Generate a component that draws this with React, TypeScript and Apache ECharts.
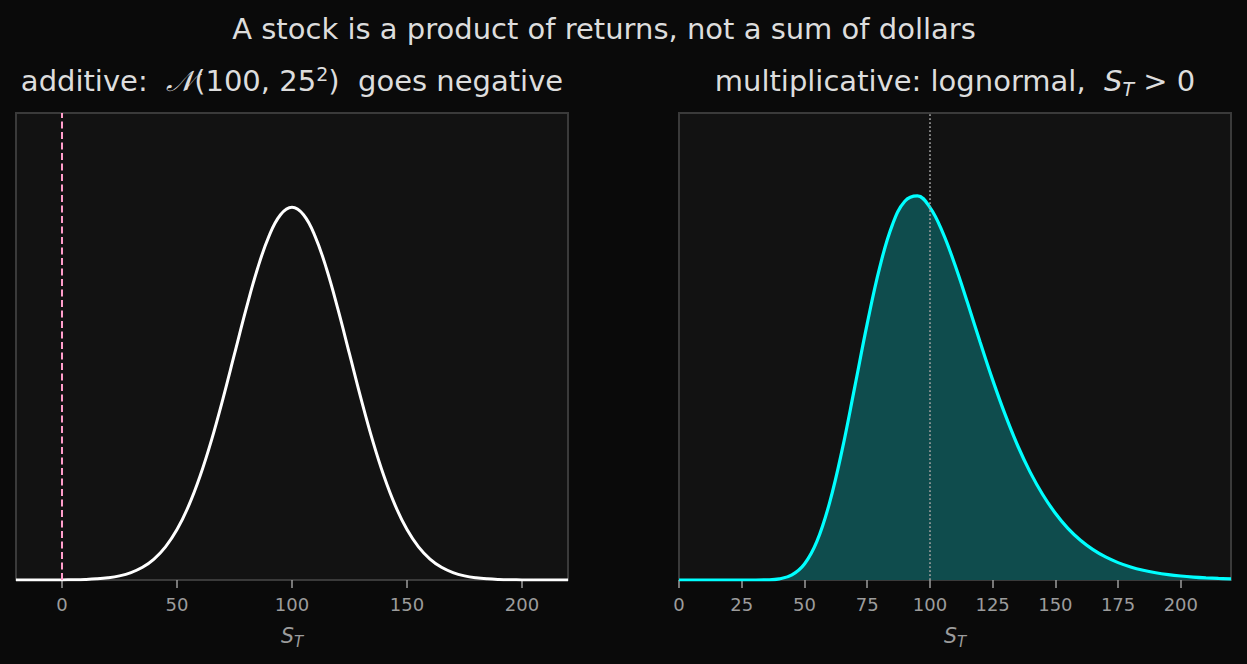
import { useEffect, useRef } from 'react';
import * as echarts from 'echarts';

// 加法モデル: N(100, 25^2) の密度
const additiveX = [
  -20, -15, -10, -5, 0, 5, 10, 15, 20, 25, 30, 35, 40, 45, 50, 55, 60, 65, 70, 75, 80, 85, 90, 95,
  100, 105, 110, 115, 120, 125, 130, 135, 140, 145, 150, 155, 160, 165, 170, 175, 180, 185, 190,
  195, 200, 205, 210, 215, 220,
];
const additiveDensity = [
  0.0000002, 0.0000004, 0.000001, 0.0000024, 0.0000053, 0.0000117, 0.0000245, 0.0000493, 0.0000954,
  0.000177, 0.000317, 0.000543, 0.000896, 0.00142, 0.00216, 0.00316, 0.00444, 0.00599, 0.00777,
  0.00968, 0.01159, 0.01333, 0.01473, 0.01564, 0.01596, 0.01564, 0.01473, 0.01333, 0.01159,
  0.00968, 0.00777, 0.00599, 0.00444, 0.00316, 0.00216, 0.00142, 0.000896, 0.000543, 0.000317,
  0.000177, 0.0000954, 0.0000493, 0.0000245, 0.0000117, 0.0000053, 0.0000024, 0.000001, 0.0000004,
  0.0000002,
];

// 乗法モデル: 対数正規分布の密度
const multiplicativeX = [
  0, 5, 10, 15, 20, 25, 30, 35, 40, 45, 50, 55, 60, 65, 70, 75, 80, 85, 90, 95, 100, 105, 110,
  115, 120, 125, 130, 135, 140, 145, 150, 155, 160, 165, 170, 175, 180, 185, 190, 195, 200, 205,
  210, 215, 220,
];
const multiplicativeDensity = [
  0, 0, 0, 0, 0, 0, 0.0000005, 0.0000067, 0.000048, 0.000216, 0.000683, 0.001663, 0.0033, 0.00556,
  0.00824, 0.01097, 0.01339, 0.0152, 0.01622, 0.01645, 0.01596, 0.01491, 0.01349, 0.01187, 0.01019,
  0.00857, 0.00708, 0.00575, 0.00461, 0.00365, 0.00286, 0.00221, 0.0017, 0.0013, 0.000987,
  0.000744, 0.000559, 0.000418, 0.000311, 0.000231, 0.000171, 0.000126, 0.000093, 0.000068,
  0.00005,
];

const additiveTicks = [0, 50, 100, 150, 200];
const multiplicativeTicks = [0, 25, 50, 75, 100, 125, 150, 175, 200];

const FONT = 'DejaVu Sans';
const TICK_COLOR = '#9c9c9c';
const TITLE_COLOR = '#dddddd';
const TITLE_SIZE = 29;

const App: React.FC = () => {
  const chartRef = useRef<HTMLDivElement>(null);

  useEffect(() => {
    if (!chartRef.current) return;
    const chart = echarts.init(chartRef.current, undefined, { renderer: 'svg' });

    const axisName = {
      name: '{s|S}{t|T}',
      nameLocation: 'middle' as const,
      nameGap: 43,
      nameTextStyle: {
        rich: {
          s: { fontFamily: FONT, fontSize: 20.5, fontStyle: 'italic', color: TICK_COLOR, lineHeight: 26 },
          t: {
            fontFamily: FONT,
            fontSize: 15,
            fontStyle: 'italic',
            color: TICK_COLOR,
            verticalAlign: 'bottom' as const,
            lineHeight: 18,
          },
        },
      },
    };

    const xCommon = (ticks: number[]) => ({
      type: 'value' as const,
      axisLine: { show: false },
      splitLine: { show: false },
      axisTick: {
        show: true,
        customValues: ticks,
        length: 8,
        lineStyle: { color: TICK_COLOR, width: 1.5 },
      },
      axisLabel: {
        customValues: ticks,
        margin: 15,
        color: TICK_COLOR,
        fontSize: 18,
        fontFamily: FONT,
      },
      ...axisName,
    });

    const yCommon = {
      type: 'value' as const,
      min: 0,
      max: 0.02,
      axisLine: { show: false },
      axisTick: { show: false },
      axisLabel: { show: false },
      splitLine: { show: false },
    };

    const gridCommon = {
      show: true,
      top: 113,
      width: 552,
      height: 467,
      backgroundColor: '#121212',
      borderColor: '#3a3a3a',
      borderWidth: 2,
    };

    const titleRich = {
      a: { color: TITLE_COLOR, fontSize: TITLE_SIZE, fontWeight: 'normal', fontFamily: FONT, lineHeight: 34 },
      i: {
        color: TITLE_COLOR,
        fontSize: TITLE_SIZE,
        fontWeight: 'normal',
        fontFamily: FONT,
        fontStyle: 'italic',
        lineHeight: 34,
      },
      p: {
        color: TITLE_COLOR,
        fontSize: 19,
        fontWeight: 'normal',
        fontFamily: FONT,
        verticalAlign: 'top',
        lineHeight: 22,
      },
      t: {
        color: TITLE_COLOR,
        fontSize: 19,
        fontWeight: 'normal',
        fontFamily: FONT,
        fontStyle: 'italic',
        verticalAlign: 'bottom',
        lineHeight: 24,
      },
    };

    const option: echarts.EChartsOption = {
      animation: false,
      backgroundColor: '#0a0a0a',
      textStyle: { fontFamily: FONT },
      title: [
        {
          text: 'A stock is a product of returns, not a sum of dollars',
          left: 604,
          textAlign: 'center',
          top: 14,
          padding: 0,
          textStyle: { color: TITLE_COLOR, fontSize: TITLE_SIZE, fontWeight: 'normal', fontFamily: FONT },
        },
        {
          text: '{a|additive:  }{i|𝒩}{a|(100, 25}{p|2}{a|)  goes negative}',
          left: 292,
          textAlign: 'center',
          top: 64,
          padding: 0,
          textStyle: { rich: titleRich },
        },
        {
          text: '{a|multiplicative: lognormal,  }{i|S}{t|T}{a| > 0}',
          left: 955,
          textAlign: 'center',
          top: 64,
          padding: 0,
          textStyle: { rich: titleRich },
        },
      ],
      grid: [
        { ...gridCommon, left: 16 },
        { ...gridCommon, left: 679 },
      ],
      xAxis: [
        { ...xCommon(additiveTicks), gridIndex: 0, min: -20, max: 220 },
        { ...xCommon(multiplicativeTicks), gridIndex: 1, min: 0, max: 220 },
      ],
      yAxis: [
        { ...yCommon, gridIndex: 0 },
        { ...yCommon, gridIndex: 1 },
      ],
      series: [
        {
          name: 'additive',
          type: 'line',
          xAxisIndex: 0,
          yAxisIndex: 0,
          data: additiveX.map((x, i) => [x, additiveDensity[i]]),
          smooth: 0.4,
          showSymbol: false,
          lineStyle: { color: '#ffffff', width: 3 },
          markLine: {
            silent: true,
            symbol: ['none', 'none'],
            label: { show: false },
            lineStyle: { color: '#ff9ecb', type: [7, 3.5], width: 2 },
            data: [{ xAxis: 0 }],
          },
        },
        {
          name: 'multiplicative',
          type: 'line',
          xAxisIndex: 1,
          yAxisIndex: 1,
          data: multiplicativeX.map((x, i) => [x, multiplicativeDensity[i]]),
          smooth: 0.4,
          showSymbol: false,
          lineStyle: { color: '#00ffff', width: 3.2 },
          areaStyle: { color: '#0f4c4d', opacity: 1 },
          markLine: {
            silent: true,
            symbol: ['none', 'none'],
            label: { show: false },
            lineStyle: { color: '#a0a0a0', type: [1.8, 2.2], width: 1.6 },
            data: [{ xAxis: 100 }],
          },
        },
      ],
    };

    chart.setOption(option);

    return () => {
      chart.dispose();
    };
  }, []);

  return (
    <div
      ref={chartRef}
      style={{ position: 'absolute', left: 0, top: 0, width: '1247px', height: '664px' }}
    />
  );
};

export default App;
